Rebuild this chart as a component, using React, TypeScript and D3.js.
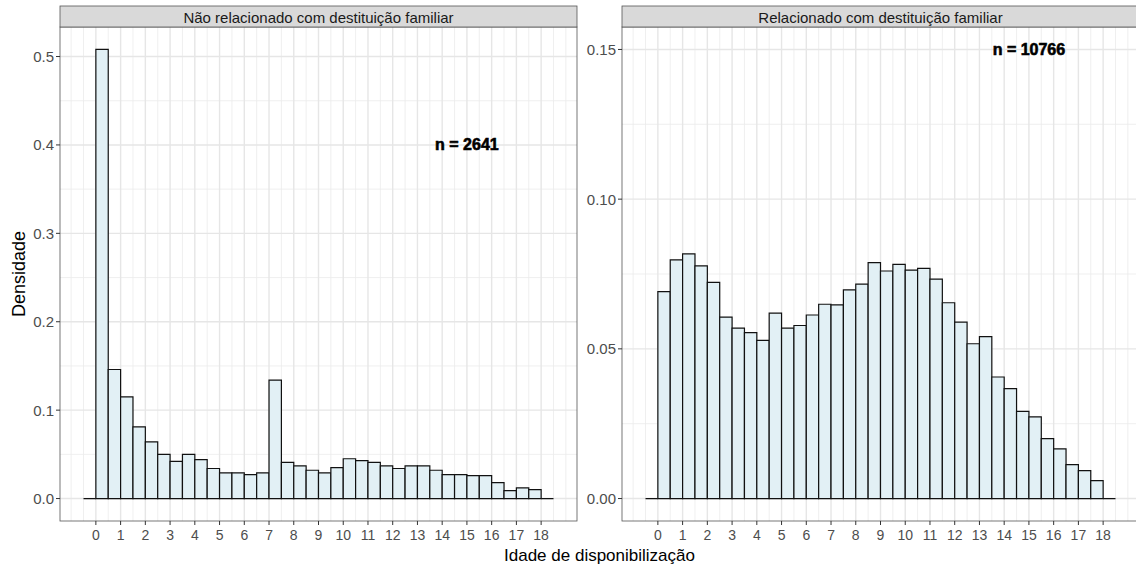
import React from "react";
import * as d3 from "d3";

// ---- data ----
const binWidth = 0.5;
const binStarts = d3.range(-0.5, 18.5, binWidth); // 38 bins: [-0.5,0) ... [18,18.5)
const ageTicks = ["0","1","2","3","4","5","6","7","8","9","10","11","12","13","14","15","16","17","18"];

const naoRelacionado = [
  0,
  0.508, 0.146, 0.115, 0.081, 0.064, 0.050, 0.042, 0.050, 0.044,
  0.034, 0.029, 0.029, 0.027, 0.029, 0.134, 0.041, 0.037, 0.032,
  0.029, 0.035, 0.045, 0.043, 0.041, 0.037, 0.034, 0.037, 0.037,
  0.032, 0.027, 0.027, 0.026, 0.026, 0.018, 0.009, 0.012, 0.010,
  0,
];

const relacionado = [
  0,
  0.0691, 0.0797, 0.0817, 0.0777, 0.0722, 0.0606, 0.0569, 0.0554, 0.0528,
  0.0619, 0.0569, 0.0578, 0.0613, 0.0649, 0.0647, 0.0697, 0.0716, 0.0788,
  0.0760, 0.0782, 0.0763, 0.0769, 0.0733, 0.0654, 0.0589, 0.0517, 0.0541,
  0.0406, 0.0367, 0.0291, 0.0273, 0.0200, 0.0166, 0.0113, 0.0093, 0.0060,
  0,
];

const panelTitles = ["Não relacionado com destituição familiar", "Relacionado com destituição familiar"];
const nLabels = ["n = 2641", "n = 10766"];
const nLabelX = [15, 15];
const nLabelY = [0.4, 0.15];
const yTicksLeft = [0, 0.1, 0.2, 0.3, 0.4, 0.5];
const yTicksRight = [0, 0.05, 0.1, 0.15];
const yFormats = [".1f", ".2f"];

const xTitle = "Idade de disponibilização";
const yTitle = "Densidade";

// ---- layout ----
const W = 1136;
const H = 565;
const panelLefts = [60, 622];
const panelW = 517;
const panelTop = 27;
const panelBottom = 521;
const stripTop = 6;
const FONT = "'Liberation Sans', Arial, sans-serif";

function minorBreaks(major: number[], lo: number, hi: number) {
  const step = major[1] - major[0];
  const ext = [major[0] - step, ...major, major[major.length - 1] + step];
  const out: number[] = [];
  for (let i = 0; i < ext.length - 1; i++) {
    out.push(ext[i] + step / 2);
  }
  return out.filter((v) => v >= lo && v <= hi && !major.some((m) => Math.abs(m - v) < 1e-9));
}

function Panel({ idx, values, yTicks }: { idx: number; values: number[]; yTicks: number[] }) {
  const left = panelLefts[idx];
  const xMin = binStarts[0];
  const xMax = binStarts[binStarts.length - 1] + binWidth;
  const xPad = (xMax - xMin) * 0.05;
  const x = d3.scaleLinear().domain([xMin - xPad, xMax + xPad]).range([left, left + panelW]);
  const yMaxData = Math.max(d3.max(values) as number, nLabelY[idx]);
  const yPad = yMaxData * 0.05;
  const y = d3.scaleLinear().domain([0 - yPad, yMaxData + yPad]).range([panelBottom, panelTop]);

  const xMajor = ageTicks.map(Number);
  const xDom = x.domain();
  const xMinor = [xMajor[0] - 1, ...minorBreaks(xMajor, xDom[0], xDom[1]), xMajor[xMajor.length - 1] + 1].filter(
    (v) => v >= xDom[0] && v <= xDom[1]
  );
  const yDom = y.domain();
  const yMinor = minorBreaks(yTicks, yDom[0], yDom[1]);
  const fmt = d3.format(yFormats[idx]);
  const right = left + panelW;

  return (
    <g>
      <rect x={left} y={panelTop} width={panelW} height={panelBottom - panelTop} fill="#ffffff" />
      {xMinor.map((v, i) => (
        <line key={"xm" + i} x1={x(v)} x2={x(v)} y1={panelTop} y2={panelBottom} stroke="#EBEBEB" strokeWidth={0.8} />
      ))}
      {yMinor.map((v, i) => (
        <line key={"ym" + i} x1={left} x2={right} y1={y(v)} y2={y(v)} stroke="#EBEBEB" strokeWidth={0.8} />
      ))}
      {xMajor.map((v, i) => (
        <line key={"xM" + i} x1={x(v)} x2={x(v)} y1={panelTop} y2={panelBottom} stroke="#E6E6E6" strokeWidth={1.4} />
      ))}
      {yTicks.map((v, i) => (
        <line key={"yM" + i} x1={left} x2={right} y1={y(v)} y2={y(v)} stroke="#E6E6E6" strokeWidth={1.4} />
      ))}
      {values.map((v, i) => {
        const b = binStarts[i];
        const d = `M${x(b)},${y(0)}V${y(v)}H${x(b + binWidth)}V${y(0)}Z`;
        return <path key={"b" + i} d={d} fill="#E2F0F5" stroke="#111111" strokeWidth={1.2} />;
      })}
      <text
        x={x(nLabelX[idx])}
        y={y(nLabelY[idx])}
        textAnchor="middle"
        dominantBaseline="central"
        fontFamily={FONT}
        fontWeight="bold"
        fontSize={16}
        fill="#000"
        stroke="#000"
        strokeWidth={0.6}
      >
        {nLabels[idx]}
      </text>
      <rect x={left} y={panelTop} width={panelW} height={panelBottom - panelTop} fill="none" stroke="#555" strokeWidth={0.8} />
      {/* strip */}
      <rect x={left} y={stripTop} width={panelW} height={panelTop - stripTop} fill="#D9D9D9" stroke="#555" strokeWidth={0.8} />
      <text
        x={(left + right) / 2}
        y={(stripTop + panelTop) / 2 + 0.5}
        textAnchor="middle"
        dominantBaseline="central"
        fontFamily={FONT}
        fontSize={15}
        fill="#1A1A1A"
      >
        {panelTitles[idx]}
      </text>
      {/* y axis */}
      {yTicks.map((v, i) => (
        <g key={"yt" + i}>
          <line x1={left - 4} x2={left} y1={y(v)} y2={y(v)} stroke="#333" strokeWidth={1} />
          <text
            x={left - 6}
            y={y(v)}
            textAnchor="end"
            dominantBaseline="central"
            fontFamily={FONT}
            fontSize={15}
            fill="#4D4D4D"
          >
            {fmt(v)}
          </text>
        </g>
      ))}
      {/* x axis */}
      {ageTicks.map((t, i) => (
        <g key={"xt" + i}>
          <line x1={x(+t)} x2={x(+t)} y1={panelBottom} y2={panelBottom + 4} stroke="#333" strokeWidth={1} />
          <text
            x={x(+t)}
            y={panelBottom + 14}
            textAnchor="middle"
            dominantBaseline="central"
            fontFamily={FONT}
            fontSize={14}
            fill="#4D4D4D"
          >
            {t}
          </text>
        </g>
      ))}
    </g>
  );
}

export default function App() {
  const series = [naoRelacionado, relacionado];
  const ticks = [yTicksLeft, yTicksRight];
  return (
    <svg
      width={W}
      height={H}
      style={{ position: "absolute", left: 0, top: 0, background: "#fff" }}
    >
      <rect x={0} y={0} width={W} height={H} fill="#fff" />
      {series.map((vals, i) => (
        <Panel key={i} idx={i} values={vals} yTicks={ticks[i]} />
      ))}
      <text
        x={(panelLefts[0] + panelLefts[1] + panelW) / 2}
        y={555}
        textAnchor="middle"
        dominantBaseline="central"
        fontFamily={FONT}
        fontSize={17}
        fill="#000"
      >
        {xTitle}
      </text>
      <text
        transform={`translate(19,${(panelTop + panelBottom) / 2}) rotate(-90)`}
        textAnchor="middle"
        dominantBaseline="central"
        fontFamily={FONT}
        fontSize={18}
        fill="#000"
      >
        {yTitle}
      </text>
    </svg>
  );
}
